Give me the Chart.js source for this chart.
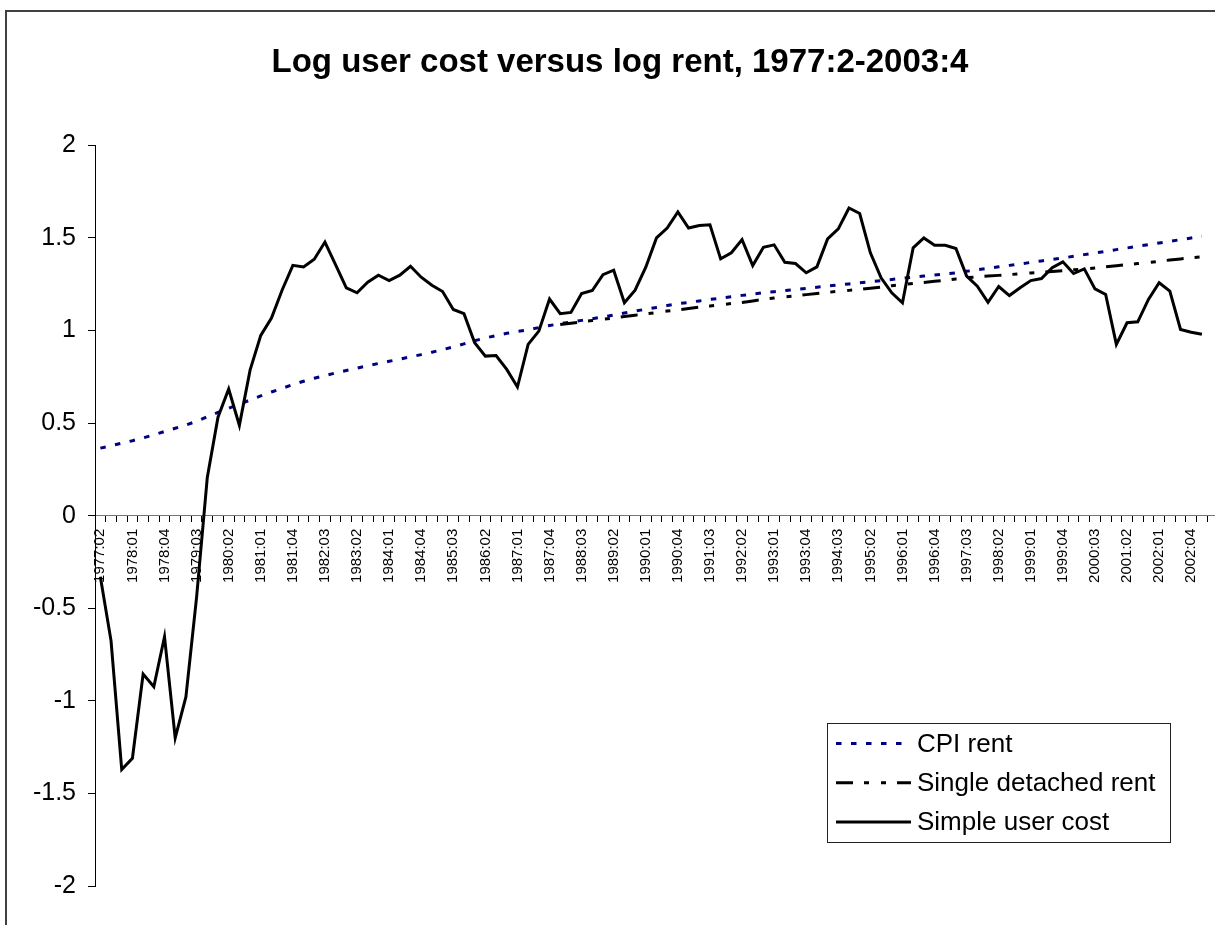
<!DOCTYPE html>
<html>
<head>
<meta charset="utf-8">
<script src="https://cdn.jsdelivr.net/npm/chart.js@4/dist/chart.umd.min.js"></script>
<style>
  html, body { margin: 0; padding: 0; background: #fff; overflow: hidden; width: 1215px; height: 925px; }
  #frame { position: absolute; left: 5px; top: 10px; width: 1400px; height: 1000px;
           border-left: 2px solid #404040; border-top: 2px solid #404040; }
  #wrap { position: absolute; left: -19px; top: 0; }
</style>
</head>
<body>
<div id="frame"></div>
<div id="wrap"><canvas id="rent-chart" width="1278" height="925"></canvas></div>
<script>
/* Quarters 1977:2 to 2003:4 */
let firstYear = 1977
let firstQuarter = 2
let quarterCount = 107
let quarters = []
for (let i = 0; i < quarterCount; i++) {
    let q = firstQuarter - 1 + i
    quarters.push((firstYear + Math.floor(q / 4)) + ':0' + (q % 4 + 1))
}

let seriesNames = ['CPI rent', 'Single detached rent', 'Simple user cost']

// values, one per quarter
let cpiRent = [
    0.365, 0.378, 0.392, 0.405, 0.420, 0.437, 0.455, 0.472, 0.490, 0.510,
    0.535, 0.558, 0.580, 0.602, 0.625, 0.647, 0.668, 0.688, 0.708, 0.726,
    0.742, 0.757, 0.771, 0.784, 0.797, 0.810, 0.822, 0.834, 0.846, 0.858,
    0.870, 0.883, 0.897, 0.912, 0.928, 0.945, 0.960, 0.973, 0.985, 0.995,
    1.004, 1.016, 1.027, 1.037, 1.046, 1.055, 1.064, 1.073, 1.084, 1.095,
    1.105, 1.115, 1.125, 1.135, 1.145, 1.152, 1.160, 1.168, 1.175, 1.183,
    1.190, 1.197, 1.204, 1.210, 1.216, 1.222, 1.228, 1.234, 1.240, 1.246,
    1.252, 1.258, 1.264, 1.270, 1.276, 1.282, 1.288, 1.294, 1.300, 1.306,
    1.312, 1.320, 1.328, 1.336, 1.344, 1.352, 1.360, 1.368, 1.376, 1.384,
    1.392, 1.401, 1.410, 1.419, 1.428, 1.437, 1.446, 1.455, 1.464, 1.473,
    1.482, 1.491, 1.500, 1.509
]

// series starts in 1988:01
let singleDetachedRent = [
    null, null, null, null, null, null, null, null, null, null,
    null, null, null, null, null, null, null, null, null, null,
    null, null, null, null, null, null, null, null, null, null,
    null, null, null, null, null, null, null, null, null, null,
    null, null, null, 1.033, 1.040, 1.047, 1.054, 1.061, 1.068, 1.076,
    1.083, 1.090, 1.097, 1.105, 1.112, 1.119, 1.126, 1.132, 1.139, 1.146,
    1.152, 1.160, 1.168, 1.176, 1.182, 1.188, 1.194, 1.200, 1.206, 1.212,
    1.217, 1.222, 1.229, 1.235, 1.242, 1.248, 1.254, 1.260, 1.266, 1.272,
    1.279, 1.285, 1.290, 1.294, 1.298, 1.302, 1.307, 1.311, 1.315, 1.319,
    1.323, 1.328, 1.332, 1.338, 1.344, 1.350, 1.356, 1.362, 1.368, 1.374,
    1.381, 1.387, 1.393, 1.398
]

let simpleUserCost = [
    -0.330, -0.676, -1.371, -1.310, -0.855, -0.924, -0.654, -1.200, -0.979, -0.440,
    0.207, 0.532, 0.684, 0.488, 0.786, 0.974, 1.068, 1.219, 1.352, 1.343,
    1.385, 1.478, 1.355, 1.231, 1.204, 1.261, 1.299, 1.270, 1.299, 1.347,
    1.288, 1.245, 1.211, 1.114, 1.091, 0.934, 0.862, 0.865, 0.790, 0.695,
    0.925, 0.997, 1.170, 1.091, 1.098, 1.200, 1.216, 1.302, 1.326, 1.150,
    1.218, 1.342, 1.500, 1.554, 1.641, 1.554, 1.567, 1.571, 1.387, 1.420,
    1.491, 1.351, 1.450, 1.463, 1.369, 1.362, 1.312, 1.344, 1.495, 1.549,
    1.662, 1.632, 1.420, 1.285, 1.204, 1.150, 1.447, 1.500, 1.461, 1.461,
    1.443, 1.294, 1.240, 1.153, 1.238, 1.189, 1.231, 1.270, 1.281, 1.339,
    1.371, 1.308, 1.333, 1.225, 1.195, 0.925, 1.042, 1.047, 1.168, 1.258,
    1.213, 1.006, 0.991, 0.980
]

let yTicks = [-2, -1.5, -1, -0.5, 0, 0.5, 1, 1.5, 2]

let fontFamily = "'Liberation Sans', Arial, Helvetica, sans-serif"

/* Legend box drawn inside the plot, like the original */
let boxLegend = {
    id: 'boxLegend',
    afterDraw(chart) {
        let ctx = chart.ctx
        let left = 827 + 19, top = 723, width = 343, height = 119
        ctx.save()
        ctx.fillStyle = '#fff'
        ctx.fillRect(left, top, width, height)
        ctx.strokeStyle = '#222'
        ctx.lineWidth = 1
        ctx.strokeRect(left + 0.5, top + 0.5, width, height)
        ctx.font = '26px ' + fontFamily
        ctx.textBaseline = 'middle'
        ctx.fillStyle = '#000'
        chart.data.datasets.forEach(function (ds, i) {
            let y = top + 20.5 + i * 39.2
            ctx.beginPath()
            ctx.strokeStyle = ds.borderColor
            ctx.lineWidth = ds.borderWidth
            ctx.setLineDash(ds.borderDash || [])
            ctx.moveTo(left + 9, y)
            ctx.lineTo(left + 84, y)
            ctx.stroke()
            ctx.setLineDash([])
            ctx.fillText(ds.label, left + 90, y + 1)
        })
        ctx.restore()
    }
}

let ctx = document.querySelector('#rent-chart').getContext('2d')

let rentChart = new Chart(ctx, {
    type: 'line',
    data: {
        labels: quarters,
        datasets: [
            {
                label: seriesNames[0],
                data: cpiRent,
                borderColor: '#000080',
                borderWidth: 3,
                borderDash: [5.5, 9.5],
                order: 2
            },
            {
                label: seriesNames[1],
                data: singleDetachedRent,
                borderColor: '#000',
                borderWidth: 3,
                borderDash: [17, 11, 5, 12, 5, 11],
                order: 1
            },
            {
                label: seriesNames[2],
                data: simpleUserCost,
                borderColor: '#000',
                borderWidth: 3,
                order: 0
            }
        ]
    },
    options: {
        responsive: false,
        animation: false,
        devicePixelRatio: 1,
        layout: { padding: { left: 0, right: 0, top: 0, bottom: 39 } },
        elements: {
            point: { radius: 0, hoverRadius: 0 },
            line: { tension: 0, borderCapStyle: 'butt', borderJoinStyle: 'miter' }
        },
        plugins: {
            legend: { display: false },
            tooltip: { enabled: false },
            title: {
                display: true,
                text: 'Log user cost versus log rent, 1977:2-2003:4',
                color: '#000',
                font: { family: fontFamily, size: 33, weight: 'bold' },
                padding: { top: 43, bottom: 62.8 }
            }
        },
        scales: {
            x: {
                type: 'category',
                position: { y: 0 },
                offset: true,
                grid: {
                    offset: true,
                    drawOnChartArea: false,
                    drawTicks: true,
                    tickLength: 6,
                    color: '#000'
                },
                border: { display: true, color: '#777', width: 1 },
                ticks: {
                    autoSkip: false,
                    minRotation: 90,
                    maxRotation: 90,
                    padding: 7,
                    color: '#000',
                    font: { family: fontFamily, size: 15 },
                    callback: function (value, index) {
                        return index % 3 === 0 ? this.getLabelForValue(value) : ''
                    }
                }
            },
            y: {
                min: -2,
                max: 2,
                afterFit: function (scale) { scale.width = 114 },
                afterBuildTicks: function (scale) {
                    scale.ticks = yTicks.map(function (v) { return { value: v } })
                },
                grid: {
                    drawOnChartArea: false,
                    drawTicks: true,
                    tickLength: 7,
                    color: '#000'
                },
                border: { display: true, color: '#000', width: 1 },
                ticks: {
                    padding: 12,
                    color: '#000',
                    font: { family: fontFamily, size: 25 },
                    callback: function (value) { return String(value) }
                }
            }
        }
    },
    plugins: [boxLegend]
})
</script>
</body>
</html>
